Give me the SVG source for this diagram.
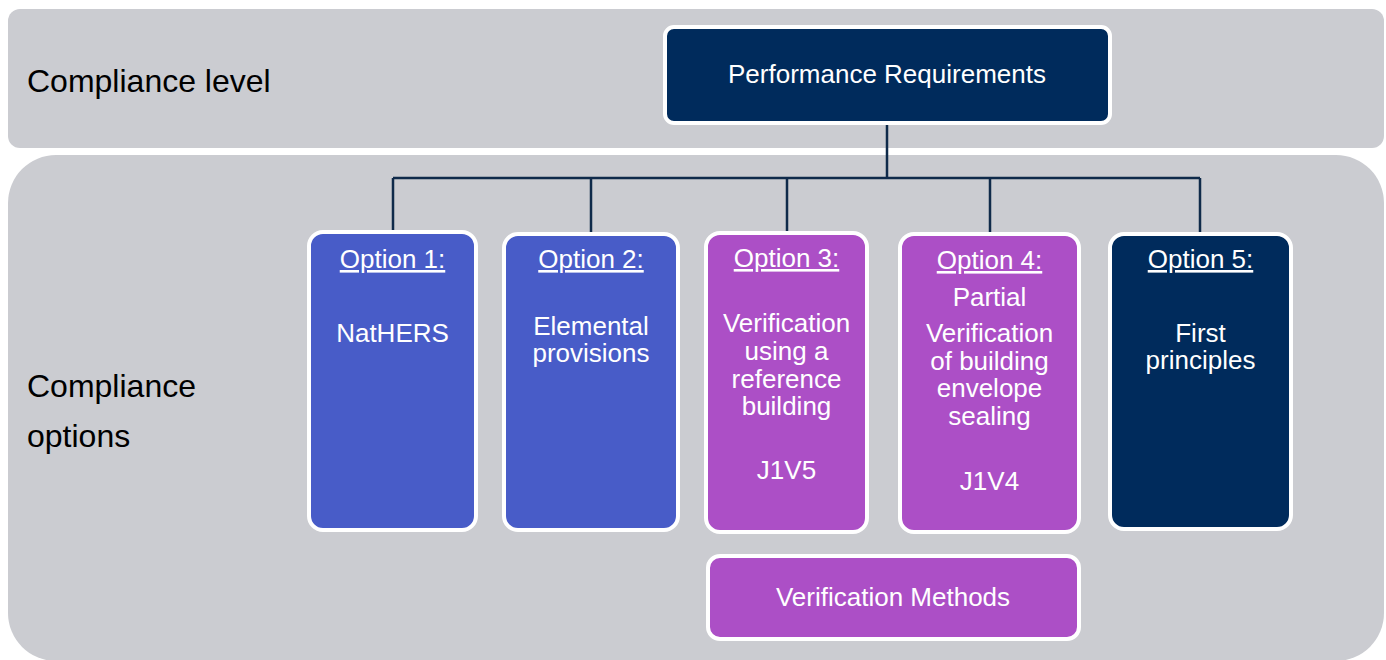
<svg xmlns="http://www.w3.org/2000/svg" width="1386" height="660" viewBox="0 0 1386 660">
<style>
.band{fill:#CBCCD1}
.box{stroke:#FFFFFF;stroke-width:4}
.navy{fill:#002B5C}
.blue{fill:#485CC8}
.purple{fill:#AC4FC6}
.t{font-family:"Liberation Sans",Arial,sans-serif;font-size:26px;fill:#FFFFFF;text-anchor:middle}
.u{text-decoration:underline}
.lbl{font-family:"Liberation Sans",Arial,sans-serif;font-size:32px;fill:#000000}
.conn{fill:none;stroke:#0F2A4A;stroke-width:2.5}
</style>
<rect width="1386" height="660" fill="#FFFFFF"/>
<g id="band-level">
<rect class="band" x="8" y="9" width="1376" height="139" rx="12"/>
<text class="lbl" x="27" y="92">Compliance level</text>
</g>
<g id="band-options">
<rect class="band" x="8" y="155" width="1376" height="506" rx="48"/>
<text class="lbl" x="27" y="397">Compliance</text>
<text class="lbl" x="27" y="447">options</text>
</g>
<g id="connectors">
<path class="conn" d="M887 125 V178 M393 178 H1200 M393 178 V232 M591 178 V234 M787 178 V233 M990 178 V234 M1200 178 V234"/>
</g>
<g id="performance">
<rect class="box navy" x="665" y="27" width="445" height="96" rx="9"/>
<text class="t" x="887" y="83">Performance Requirements</text>
</g>
<g id="option1">
<rect class="box blue" x="309" y="232" width="167" height="298" rx="14"/>
<text class="t u" x="392.5" y="268">Option 1:</text>
<text class="t" x="392.5" y="342">NatHERS</text>
</g>
<g id="option2">
<rect class="box blue" x="504" y="234" width="174" height="296" rx="14"/>
<text class="t u" x="591" y="268">Option 2:</text>
<text class="t" x="591" y="335">Elemental</text>
<text class="t" x="591" y="362">provisions</text>
</g>
<g id="option3">
<rect class="box purple" x="706" y="233" width="161" height="299" rx="14"/>
<text class="t u" x="786.5" y="267">Option 3:</text>
<text class="t" x="786.5" y="332">Verification</text>
<text class="t" x="786.5" y="360">using a</text>
<text class="t" x="786.5" y="388">reference</text>
<text class="t" x="786.5" y="415">building</text>
<text class="t" x="786.5" y="479">J1V5</text>
</g>
<g id="option4">
<rect class="box purple" x="900" y="234" width="179" height="298" rx="14"/>
<text class="t u" x="989.5" y="269">Option 4:</text>
<text class="t" x="989.5" y="306">Partial</text>
<text class="t" x="989.5" y="342">Verification</text>
<text class="t" x="989.5" y="370">of building</text>
<text class="t" x="989.5" y="397">envelope</text>
<text class="t" x="989.5" y="425">sealing</text>
<text class="t" x="989.5" y="490">J1V4</text>
</g>
<g id="option5">
<rect class="box navy" x="1110" y="234" width="181" height="295" rx="14"/>
<text class="t u" x="1200.5" y="268">Option 5:</text>
<text class="t" x="1200.5" y="342">First</text>
<text class="t" x="1200.5" y="369">principles</text>
</g>
<g id="verification-methods">
<rect class="box purple" x="708" y="556" width="371" height="83" rx="12"/>
<text class="t" x="893" y="606">Verification Methods</text>
</g>
</svg>
